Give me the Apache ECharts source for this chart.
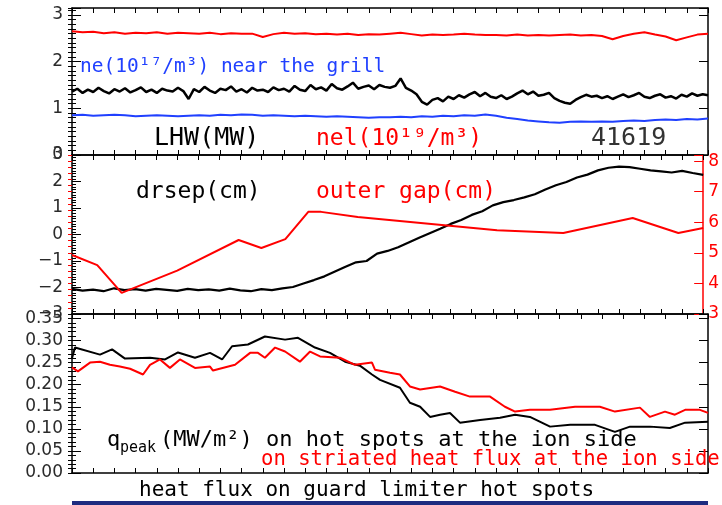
<!DOCTYPE html>
<html><head><meta charset="utf-8">
<script src="https://cdn.jsdelivr.net/npm/echarts@6/dist/echarts.min.js"></script>
<style>html,body{margin:0;padding:0;background:#fff}#c{width:722px;height:505px}</style>
</head><body><div id="c"></div>
<script>
// ---- time axis (arbitrary units, 30 tick intervals) ----
const timeMin = 0, timeMax = 30;

// ---- tick labels ----
const topTickLabels = ['0', '1', '2', '3'];
const midLeftTickLabels = ['\u22123', '\u22122', '\u22121', '0', '1', '2', '3'];
const midRightTickLabels = ['3', '4', '5', '6', '7', '8'];
const botTickLabels = ['0.00', '0.05', '0.10', '0.15', '0.20', '0.25', '0.30', '0.35'];

// ---- top panel ----
const lhwStep = 0.25; // LHW (MW), sampled every 0.25
const lhw = [1.36,1.42,1.33,1.40,1.35,1.44,1.37,1.32,1.41,1.36,1.43,1.34,1.39,1.45,1.35,1.40,1.33,1.42,1.38,1.36,1.44,
  1.37,1.20,1.41,1.35,1.46,1.38,1.33,1.42,1.39,1.47,1.36,1.41,1.34,1.44,1.38,1.40,1.35,1.45,1.39,1.42,
  1.36,1.48,1.40,1.37,1.50,1.41,1.45,1.38,1.52,1.43,1.40,1.47,1.55,1.42,1.46,1.49,1.41,1.50,1.46,1.44,
  1.48,1.64,1.44,1.38,1.30,1.14,1.08,1.18,1.22,1.15,1.25,1.20,1.28,1.23,1.30,1.35,1.26,1.33,1.25,1.22,
  1.28,1.20,1.25,1.32,1.38,1.30,1.36,1.27,1.29,1.33,1.22,1.16,1.12,1.10,1.18,1.24,1.29,1.25,1.27,1.22,
  1.26,1.20,1.25,1.30,1.24,1.28,1.33,1.25,1.22,1.27,1.30,1.23,1.26,1.21,1.29,1.25,1.32,1.27,1.30,1.28];
const densStep = 0.5; // nel and ne, sampled every 0.5
const nel = [2.65,2.63,2.64,2.61,2.63,2.60,2.62,2.61,2.63,2.60,
  2.62,2.61,2.60,2.62,2.59,2.61,2.60,2.60,2.53,2.59,
  2.62,2.60,2.61,2.59,2.60,2.58,2.60,2.57,2.59,2.58,
  2.60,2.62,2.59,2.56,2.58,2.57,2.58,2.60,2.58,2.57,
  2.57,2.56,2.58,2.56,2.57,2.56,2.57,2.58,2.56,2.57,
  2.55,2.48,2.55,2.60,2.63,2.58,2.54,2.46,2.52,2.58,
  2.60];
const neGrill = [0.85,0.86,0.84,0.85,0.86,0.85,0.83,0.84,0.85,0.84,
  0.83,0.84,0.85,0.84,0.86,0.85,0.87,0.86,0.84,0.85,
  0.84,0.83,0.84,0.83,0.82,0.83,0.82,0.81,0.80,0.81,
  0.81,0.82,0.81,0.83,0.82,0.84,0.83,0.85,0.84,0.87,
  0.84,0.80,0.77,0.74,0.72,0.70,0.69,0.71,0.72,0.71,
  0.72,0.71,0.73,0.74,0.73,0.75,0.76,0.75,0.77,0.76,
  0.78];

// ---- middle panel ----
const drsepStep = 0.5; // drsep (cm)
const drsep = [-2.05,-2.12,-2.08,-2.14,-2.03,-2.10,-2.06,-2.12,-2.05,-2.09,
  -2.13,-2.05,-2.10,-2.07,-2.12,-2.04,-2.11,-2.14,-2.06,-2.10,
  -2.03,-1.98,-1.85,-1.72,-1.58,-1.40,-1.22,-1.05,-1.00,-0.72,
  -0.62,-0.48,-0.30,-0.12,0.05,0.22,0.40,0.55,0.74,0.88,
  1.10,1.22,1.30,1.40,1.52,1.70,1.86,1.98,2.15,2.26,
  2.42,2.52,2.56,2.54,2.48,2.42,2.38,2.34,2.40,2.32,
  2.25];
const outerGap = [[0,4.93],[1.2,4.6],[2.36,3.69],[5.0,4.42],[7.92,5.42],[9.0,5.16],[10.14,5.45],
  [11.23,6.34],[11.84,6.34],[13.58,6.17],[20.2,5.74],[23.35,5.65],[26.65,6.14],[28.82,5.65],[30,5.81]];

// ---- bottom panel ----
const qHot = [[0,0.260],[0.14,0.284],[1.32,0.268],[1.89,0.280],[2.5,0.259],[3.68,0.261],[4.39,0.257],[5.0,0.273],
  [5.8,0.261],[6.51,0.272],[7.08,0.257],[7.55,0.287],[8.3,0.291],[9.1,0.309],[10.05,0.302],[10.66,0.306],
  [11.46,0.284],[12.17,0.272],[12.88,0.252],[13.58,0.243],[14.15,0.223],[14.53,0.211],[15.47,0.193],
  [15.94,0.159],[16.42,0.150],[16.89,0.127],[17.36,0.132],[17.83,0.136],[18.3,0.114],[19.25,0.120],
  [20.19,0.125],[20.9,0.132],[21.6,0.127],[22.55,0.105],[23.5,0.109],[24.67,0.109],[25.61,0.093],
  [26.32,0.105],[27.26,0.105],[28.2,0.102],[28.92,0.114],[30,0.116]];
const qStriated = [[0,0.239],[0.28,0.230],[0.85,0.250],[1.32,0.252],[1.79,0.245],[2.26,0.241],[2.74,0.236],
  [3.35,0.223],[3.68,0.245],[4.15,0.257],[4.62,0.238],[5.09,0.257],[5.8,0.238],[6.51,0.241],[6.65,0.232],
  [7.69,0.245],[8.4,0.272],[8.77,0.272],[9.1,0.261],[9.58,0.284],[10.05,0.275],[10.75,0.252],[11.23,0.275],
  [11.7,0.264],[12.64,0.261],[13.35,0.245],[14.15,0.250],[14.29,0.234],[15.0,0.227],[15.47,0.223],
  [15.94,0.196],[16.42,0.189],[17.36,0.196],[18.07,0.184],[18.77,0.173],[19.72,0.173],[20.42,0.150],
  [20.9,0.139],[21.6,0.143],[22.55,0.143],[23.73,0.150],[24.9,0.150],[25.61,0.139],[26.79,0.148],
  [27.26,0.127],[27.97,0.139],[28.44,0.132],[28.92,0.143],[29.62,0.143],[30,0.136]];

// ---------------- chart ----------------
const RED = '#ff0000', BLUE = '#2040ff', BLACK = '#000000';
const LABEL_FONT = 'DejaVu Sans';
const TEXT_FONT = 'DejaVu Sans Mono';

function sampled(arr, step) { return arr.map((v, i) => [i * step, v]); }
function labelFrom(list, min, step) {
  return function (v) {
    const k = (v - min) / step, r = Math.round(k);
    if (Math.abs(k - r) > 1e-6 || r < 0 || r >= list.length) return '';
    return list[r];
  };
}

const grids = [
  { left: 72, top: 8, width: 636, height: 147 },
  { left: 72, top: 155, width: 636, height: 159 },
  { left: 72, top: 314, width: 636, height: 159 }
];

const xAxes = [];
[0, 1, 2].forEach(g => {
  ['bottom', 'top'].forEach(pos => {
    xAxes.push({
      type: 'value', gridIndex: g, position: pos, min: timeMin, max: timeMax, interval: 1,
      axisLine: { show: true, onZero: false, lineStyle: { color: BLACK, width: 1.5 } },
      axisTick: { show: true, inside: true, length: 5, lineStyle: { color: BLACK, width: 1 } },
      axisLabel: { show: false }, splitLine: { show: false }
    });
  });
});

const yAxes = [];
function addY(g, pos, min, max, major, minor, color, labels, labelMin, showLabels, margin) {
  const idx = yAxes.length;
  yAxes.push({
    type: 'value', gridIndex: g, position: pos, min: min, max: max, interval: major,
    axisLine: { show: true, onZero: false, lineStyle: { color: color, width: 1.5 } },
    axisTick: { show: true, inside: true, length: 9, lineStyle: { color: color, width: 1 } },
    axisLabel: {
      show: showLabels, margin: margin, color: color === BLACK ? '#2a2a2a' : color,
      fontSize: 17, fontFamily: LABEL_FONT,
      formatter: labelFrom(labels, labelMin, major)
    },
    splitLine: { show: false }
  });
  yAxes.push({
    type: 'value', gridIndex: g, position: pos, min: min, max: max, interval: minor,
    axisLine: { show: false },
    axisTick: { show: true, inside: true, length: 4, lineStyle: { color: color, width: 1 } },
    axisLabel: { show: false }, splitLine: { show: false }
  });
  return idx;
}
const yTop = addY(0, 'left', 0, 3.15, 1, 0.1, BLACK, topTickLabels, 0, true, 9);
addY(0, 'right', 0, 3.15, 1, 0.1, BLACK, topTickLabels, 0, false, 5);
const yMidL = addY(1, 'left', -3, 3, 1, 0.1, BLACK, midLeftTickLabels, -3, true, 9);
const yMidR = addY(1, 'right', 3, 8.2, 1, 0.2, RED, midRightTickLabels, 3, true, 5);
const yBot = addY(2, 'left', 0, 0.36, 0.05, 0.01, BLACK, botTickLabels, 0, true, 9);
addY(2, 'right', 0, 0.36, 0.05, 0.01, BLACK, botTickLabels, 0, false, 5);

function line(name, data, xi, yi, color, w) {
  return { name, type: 'line', data, xAxisIndex: xi, yAxisIndex: yi, showSymbol: false, symbol: 'none',
    smooth: false, animation: false, silent: true, lineStyle: { color, width: w }, z: 3 };
}

const series = [
  line('nel', sampled(nel, densStep), 0, yTop, RED, 2),
  line('ne', sampled(neGrill, densStep), 0, yTop, BLUE, 2),
  line('LHW', sampled(lhw, lhwStep), 0, yTop, BLACK, 2.5),
  line('drsep', sampled(drsep, drsepStep), 2, yMidL, BLACK, 2.2),
  line('outer gap', outerGap, 2, yMidR, RED, 2),
  line('qpeak hot', qHot, 4, yBot, BLACK, 2),
  line('qpeak striated', qStriated, 4, yBot, RED, 2)
];

function txt(s, x, y, size, color, font) {
  return { type: 'text', x: x, y: y, z: 10, silent: true,
    style: { text: s, fill: color, fontSize: size, fontFamily: font || TEXT_FONT,
      align: 'left', verticalAlign: 'middle', textAlign: 'left', textVerticalAlign: 'middle' } };
}

const graphics = [
  txt('ne(10\u00b9\u2077/m\u00b3) near the grill', 80, 67, 19.5, BLUE),
  txt('LHW(MW)', 154, 138, 25, BLACK),
  txt('nel(10\u00b9\u2079/m\u00b3)', 316, 139, 23, RED),
  txt('41619', 591, 138, 25, '#333333'),
  txt('drsep(cm)', 136, 192, 23, BLACK),
  txt('outer gap(cm)', 316, 192, 23, RED),
  txt('q', 107, 440, 22, BLACK),
  txt('peak', 120, 448, 15, BLACK),
  txt('(MW/m\u00b2) on hot spots at the ion side', 160, 440, 22, BLACK),
  txt('on striated heat flux at the ion side', 261, 460, 20.6, RED),
  txt('heat flux on guard limiter hot spots', 139, 491, 21, BLACK),
  { type: 'rect', silent: true, z: 1, shape: { x: 72, y: 501, width: 636, height: 4 },
    style: { fill: '#1e2c80' } }
];

const chart = echarts.init(document.getElementById('c'), null, { renderer: 'canvas' });
chart.setOption({
  animation: false,
  backgroundColor: '#ffffff',
  grid: grids,
  xAxis: xAxes,
  yAxis: yAxes,
  series: series,
  graphic: graphics
});
</script></body></html>
